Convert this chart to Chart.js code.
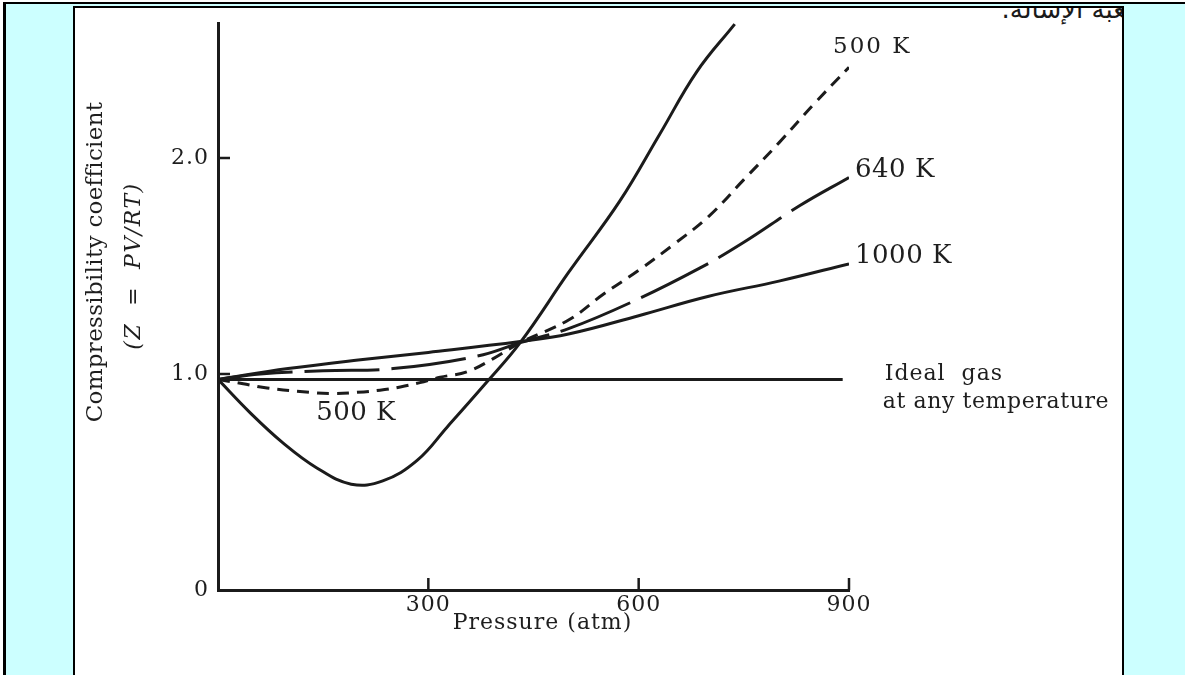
<!DOCTYPE html>
<html>
<head>
<meta charset="utf-8">
<script src="https://cdn.jsdelivr.net/npm/chart.js@4.4.1/dist/chart.umd.min.js"></script>
<style>
  body { margin: 0; width: 1185px; height: 675px; overflow: hidden; background: #fff; position: relative; }
  #cadre { position: absolute; left: 3px; top: 2px; width: 1185px; height: 700px; border-left: 3px solid #000; border-top: 2px solid #000; background: #ccffff; }
  #feuille { position: absolute; left: 73px; top: 6px; width: 1047px; height: 700px; border: 2px solid #000; background: #fff; overflow: hidden; }
  #entete { position: absolute; right: -26px; top: -13px; font: 26px "DejaVu Sans"; line-height: 28px; color: #1a1a1a; direction: rtl; white-space: nowrap; }
  #graphe { position: absolute; left: 0; top: 0; }
</style>
</head>
<body>
<div id="cadre"></div>
<div id="feuille"><div id="entete">صعبة الإسالة.</div></div>
<canvas id="graphe" width="1185" height="675"></canvas>
<script>
// Facteur de compressibilité Z = PV/RT en fonction de la pression (atm)
const pression200 = [0, 46, 93, 141, 190, 235, 284, 327, 380, 431, 500, 573, 630, 683, 737];
const z200 = [0.975, 0.82, 0.68, 0.565, 0.49, 0.505, 0.60, 0.755, 0.95, 1.145, 1.47, 1.80, 2.11, 2.40, 2.62];

const pression500 = [0, 36, 70, 131, 164, 198, 231, 260, 288, 317, 355, 392, 431, 500, 550, 600, 650, 700, 750, 800, 850, 900];
const z500 = [0.975, 0.955, 0.935, 0.915, 0.91, 0.915, 0.925, 0.94, 0.96, 0.985, 1.01, 1.07, 1.145, 1.25, 1.37, 1.48, 1.60, 1.73, 1.90, 2.07, 2.25, 2.42];

const pression640 = [0, 60, 150, 250, 370, 431, 500, 588, 687, 750, 830, 900];
const z640 = [0.975, 1.0, 1.015, 1.025, 1.083, 1.145, 1.21, 1.33, 1.49, 1.61, 1.78, 1.91];

const pression1000 = [0, 100, 200, 300, 431, 500, 600, 700, 800, 900];
const z1000 = [0.975, 1.025, 1.065, 1.10, 1.15, 1.185, 1.27, 1.36, 1.43, 1.51];

const pressionParfait = [0, 891];
const zParfait = [0.975, 0.975];

const ticksX = [300, 600, 900];
const ticksY = [0, 1, 2];

const noir = '#1b1b1b';
const encre = '#1e1e1e';

function points(px, pz) {
  return px.map((p, i) => ({ x: p, y: pz[i] }));
}

function courbe(px, pz, tirets) {
  return {
    data: points(px, pz),
    borderColor: noir,
    borderWidth: 3,
    borderDash: tirets,
    pointRadius: 0,
    fill: false,
    tension: 0.4
  };
}

// graduations vers l'intérieur + étiquettes des courbes
const habillage = {
  id: 'habillage',
  beforeDraw(chart) {
    chart.ctx.letterSpacing = '1px';
  },
  afterDraw(chart) {
    const { ctx, scales: { x, y } } = chart;
    ctx.save();
    ctx.strokeStyle = noir;
    ctx.lineWidth = 2.5;
    ticksX.forEach(v => {
      const px = x.getPixelForValue(v);
      ctx.beginPath();
      ctx.moveTo(px, y.bottom);
      ctx.lineTo(px, y.bottom - 12);
      ctx.stroke();
    });
    ticksY.slice(1).forEach(v => {
      const py = y.getPixelForValue(v);
      ctx.beginPath();
      ctx.moveTo(x.left, py);
      ctx.lineTo(x.left + 12, py);
      ctx.stroke();
    });

    ctx.fillStyle = encre;
    ctx.textBaseline = 'middle';
    ctx.textAlign = 'left';

    const fin500x = x.getPixelForValue(pression500[pression500.length - 1]);
    const fin500y = y.getPixelForValue(z500[z500.length - 1]);
    ctx.letterSpacing = '2px';
    ctx.font = '23px "DejaVu Serif"';
    ctx.fillText('500 K', fin500x - 16, fin500y - 20);

    ctx.letterSpacing = '0.5px';
    ctx.font = '26px "DejaVu Serif"';
    const fin640x = x.getPixelForValue(pression640[pression640.length - 1]);
    const fin640y = y.getPixelForValue(z640[z640.length - 1]);
    ctx.fillText('640 K', fin640x + 6, fin640y - 7);

    const fin1000x = x.getPixelForValue(pression1000[pression1000.length - 1]);
    const fin1000y = y.getPixelForValue(z1000[z1000.length - 1]);
    ctx.fillText('1000 K', fin1000x + 6, fin1000y - 8);

    ctx.textAlign = 'center';
    ctx.fillText('500 K', x.getPixelForValue(197), y.getPixelForValue(0.82));

    ctx.textAlign = 'left';
    ctx.letterSpacing = '1px';
    ctx.font = '22px "DejaVu Serif"';
    const finPx = x.getPixelForValue(pressionParfait[1]);
    const finPy = y.getPixelForValue(zParfait[1]);
    ctx.fillText('Ideal  gas', finPx + 42, finPy - 5);
    ctx.letterSpacing = '0.6px';
    ctx.fillText('at any temperature', finPx + 40, finPy + 23);

    // titres des axes
    ctx.textAlign = 'center';
    ctx.letterSpacing = '1px';
    ctx.font = '22px "DejaVu Serif"';
    ctx.fillText('Pressure (atm)', (x.left + x.right) / 2 + 9, y.bottom + 33);

    ctx.save();
    ctx.translate(96, 262);
    ctx.rotate(-Math.PI / 2);
    ctx.letterSpacing = '0.3px';
    ctx.font = '23px "DejaVu Serif"';
    ctx.fillText('Compressibility coefficient', 0, 0);
    ctx.restore();

    ctx.save();
    ctx.translate(134, 266);
    ctx.rotate(-Math.PI / 2);
    ctx.letterSpacing = '1.5px';
    ctx.font = 'italic 22px "DejaVu Serif"';
    ctx.fillText('(Z  =  PV/RT)', 0, 0);
    ctx.restore();

    ctx.restore();
  }
};

Chart.defaults.font.family = '"DejaVu Serif"';

const graphe = document.getElementById('graphe');
new Chart(graphe, {
  type: 'line',
  data: {
    datasets: [
      courbe(pression200, z200, []),
      courbe(pression500, z500, [12, 8]),
      courbe(pression640, z640, [75, 12]),
      courbe(pression1000, z1000, []),
      courbe(pressionParfait, zParfait, [])
    ]
  },
  options: {
    responsive: false,
    animation: false,
    devicePixelRatio: 1,
    layout: { padding: { left: 0, top: 23, right: 336, bottom: 0 } },
    plugins: {
      legend: { display: false },
      tooltip: { enabled: false }
    },
    scales: {
      x: {
        type: 'linear',
        min: 0,
        max: 900,
        afterBuildTicks: s => { s.ticks = ticksX.map(v => ({ value: v })); },
        afterFit: s => { s.height = 85; },
        grid: { display: false, drawTicks: false },
        border: { display: true, width: 3, color: noir },
        ticks: { color: encre, font: { size: 22 }, padding: 2, maxRotation: 0 }
      },
      y: {
        min: 0,
        max: 2.625,
        afterBuildTicks: s => { s.ticks = ticksY.map(v => ({ value: v })); },
        afterFit: s => { s.width = 218; },
        grid: { display: false, drawTicks: false },
        border: { display: true, width: 3, color: noir },
        ticks: {
          color: encre,
          font: { size: 22 },
          padding: 9,
          callback: v => v === 0 ? '0' : v.toFixed(1)
        }
      }
    }
  },
  plugins: [habillage]
});
</script>
</body>
</html>
